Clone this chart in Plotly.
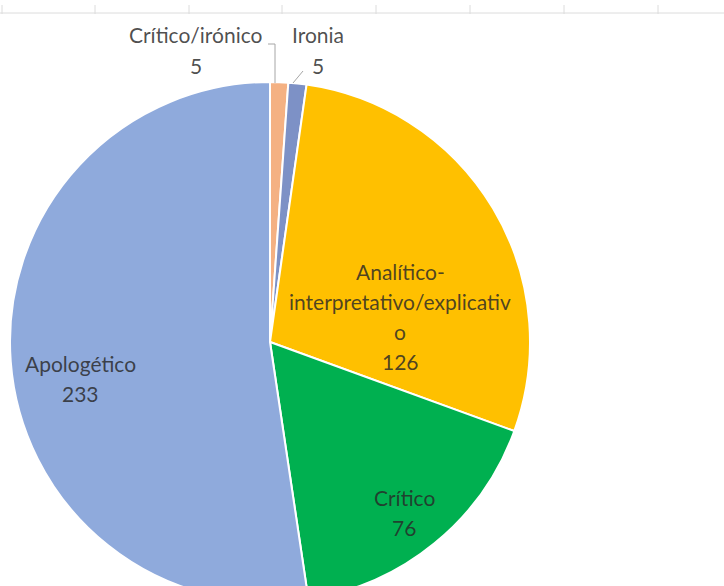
import plotly.graph_objects as go

# ---- data ----
categories = ["Crítico/irónico", "Ironia", "Analítico-interpretativo/explicativo", "Crítico", "Apologético"]
values = [5, 5, 126, 76, 233]
# label text as displayed (wrapped as in the original)
label_lines = [
    ["Crítico/irónico", "5"],
    ["Ironia", "5"],
    ["Analítico-", "interpretativo/explicativ", "o", "126"],
    ["Crítico", "76"],
    ["Apologético", "233"],
]

# ---- styles / layout ----
W, H = 724, 606
colors = ["#F4B183", "#7D91C6", "#FFC000", "#00B050", "#8FAADC"]
cx, cy, R = 270, 342, 260
# label block centres (px) and line spacing
label_pos = [(196, 50), (318, 50), (400, 316), (404, 512), (80, 378)]
line_gap = 30
font_family = "Lato, 'Liberation Sans', sans-serif"
font_size = 21
txt_col = "rgba(40,40,40,0.82)"

def px(x):
    return x / W

def py(y):
    return 1 - y / H

fig = go.Figure(go.Pie(
    labels=categories,
    values=values,
    sort=False,
    direction="clockwise",
    rotation=0,
    marker=dict(colors=colors, line=dict(color="white", width=2)),
    textinfo="none",
    hoverinfo="label+value",
    showlegend=False,
    domain=dict(x=[px(cx - R), px(cx + R)], y=[py(cy + R), py(cy - R)]),
))

annotations = []
for (lx, ly), lines in zip(label_pos, label_lines):
    n = len(lines)
    for i, t in enumerate(lines):
        yy = ly + (i - (n - 1) / 2) * line_gap
        annotations.append(dict(
            x=px(lx), y=py(yy), xref="paper", yref="paper",
            text=t, showarrow=False, xanchor="center", yanchor="middle",
            font=dict(family=font_family, size=font_size, color=txt_col),
        ))

shapes = []
# faint top rule with tick marks (background of the original sheet)
shapes.append(dict(type="line", xref="paper", yref="paper",
                   x0=0, x1=1, y0=py(13), y1=py(13),
                   line=dict(color="#dcdcdc", width=1)))
for tx in [2, 95, 189, 282, 376, 470, 564, 658]:
    shapes.append(dict(type="line", xref="paper", yref="paper",
                       x0=px(tx), x1=px(tx), y0=py(5), y1=py(14),
                       line=dict(color="#dcdcdc", width=1)))
# leader lines for small outside labels
shapes.append(dict(type="path", xref="paper", yref="paper",
                   path=f"M {px(268)} {py(44)} L {px(275)} {py(44)} L {px(275)} {py(83)}",
                   line=dict(color="#a6a6a6", width=1)))
shapes.append(dict(type="line", xref="paper", yref="paper",
                   x0=px(303), y0=py(71), x1=px(293), y1=py(83),
                   line=dict(color="#a6a6a6", width=1)))

fig.update_layout(
    width=W, height=H,
    margin=dict(l=0, r=0, t=0, b=0),
    paper_bgcolor="white", plot_bgcolor="white",
    annotations=annotations,
    shapes=shapes,
)

fig.write_html(
    "out.html",
    post_script="document.documentElement.style.overflow='hidden';document.body.style.overflow='hidden';document.body.style.margin='0';",
)
